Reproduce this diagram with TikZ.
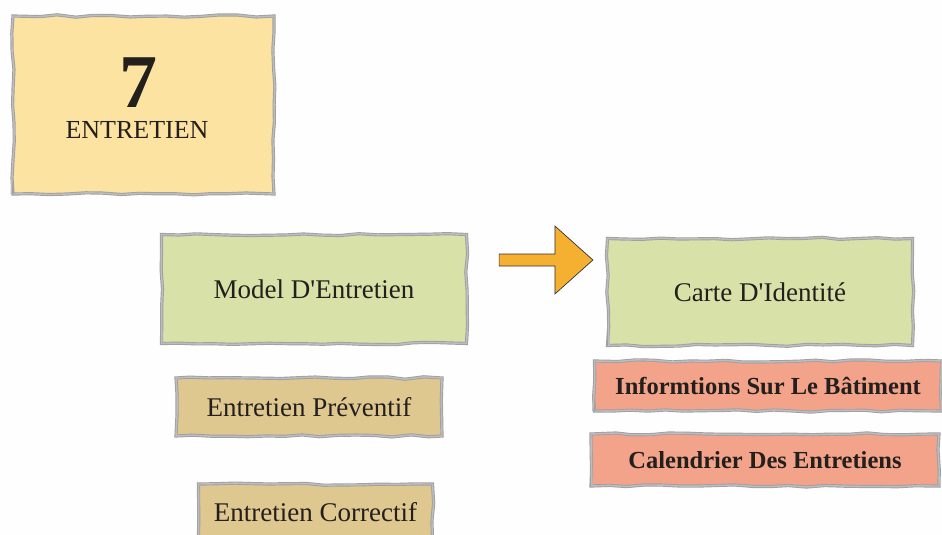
\documentclass[tikz,border=0pt]{standalone}
\usepackage{fontspec}
\setmainfont{Liberation Serif}
\usetikzlibrary{decorations.pathmorphing,calc}
\definecolor{brushgray}{HTML}{A0A0A3}
\definecolor{padyellow}{HTML}{FCE3A2}
\definecolor{padgreen}{HTML}{D8E1A7}
\definecolor{padtan}{HTML}{DFC790}
\definecolor{padsalmon}{HTML}{F3A38A}
\definecolor{arroworange}{HTML}{F5B031}
\definecolor{inkdark}{HTML}{231F1C}
\begin{document}
\begin{tikzpicture}[x=1pt,y=-1pt,
  pad/.style={rectangle, inner sep=0pt, draw=brushgray, line width=3.2pt,
    text=inkdark, align=center,
    decorate, decoration={random steps, segment length=18pt, amplitude=1.2pt},
    postaction={draw=brushgray!70, line width=1.4pt, decorate,
      decoration={random steps, segment length=26pt, amplitude=2pt}}},
  word/.style={text=inkdark, inner sep=0pt},
  label/.style={font=\fontsize{27}{31}\selectfont},
  boldlabel/.style={font=\fontsize{24.5}{28}\selectfont\bfseries}
]
\pgfmathsetseed{7}
\useasboundingbox (0,0) rectangle (942,535);
\fill[white!99!gray] (0,0) rectangle (942,535);

% chapter card
\node[pad, fill=padyellow, minimum width=261pt, minimum height=178pt] (chap) at (143.5,105) {};
\node[word, font=\fontsize{76}{76}\selectfont\bfseries] (num) at (138,83) {7};
\node[word, font=\fontsize{26}{30}\selectfont] (title) at (137,130) {ENTRETIEN};

% main concepts
\node[pad, fill=padgreen, minimum width=305pt, minimum height=109pt, label] (model) at (314,289)
  {Model D\textquotesingle Entretien};
\node[pad, fill=padgreen, minimum width=305pt, minimum height=107pt, label] (carte) at (760,292)
  {Carte D\textquotesingle Identit\'e};

% maintenance types
\node[pad, fill=padtan, minimum width=266pt, minimum height=58pt, label] (prev) at (309,407)
  {Entretien Pr\'eventif};
\node[pad, fill=padtan, minimum width=234pt, minimum height=56pt, label] (corr) at (315.5,512)
  {Entretien Correctif};

% identity card contents
\node[pad, fill=padsalmon, minimum width=347pt, minimum height=50pt, boldlabel] (info) at (768,386)
  {Informtions Sur Le B\^atiment};
\node[pad, fill=padsalmon, minimum width=348pt, minimum height=52pt, boldlabel] (cal) at (765,460)
  {Calendrier Des Entretiens};

% block arrow from the model to the identity card
\coordinate (a0) at ($(model.east)+(31,-29)$);
\coordinate (a1) at ($(carte.west)+(-13,-32)$);
\draw[fill=arroworange, draw=black!80, line width=0.7pt, line join=miter]
  ($(a0)+(0,-6)$) -- ($(a1)+(-38,-6)$) -- ($(a1)+(-38,-34)$) -- (a1)
  -- ($(a1)+(-38,34)$) -- ($(a1)+(-38,6)$) -- ($(a0)+(0,6)$) -- cycle;
\end{tikzpicture}
\end{document}
